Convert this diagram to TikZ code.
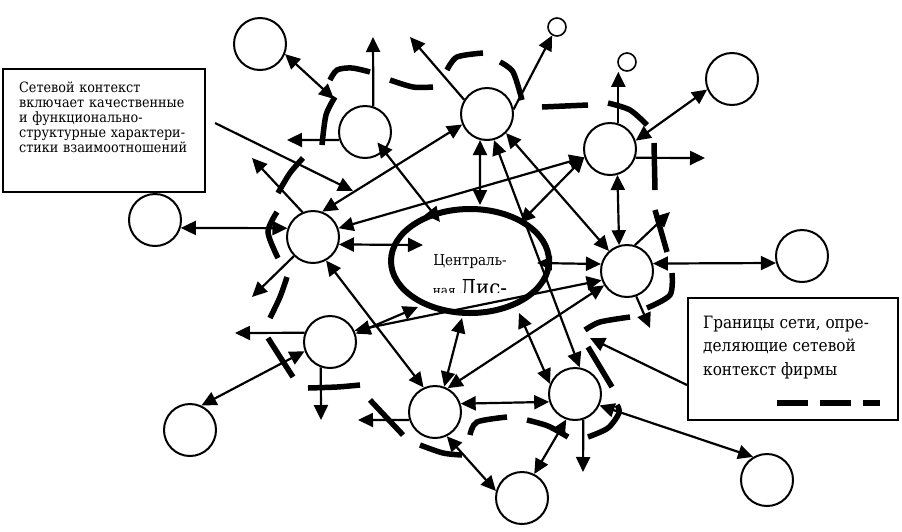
\documentclass[tikz,border=0pt]{standalone}
\usepackage{fontspec}
\setmainfont{DejaVu Serif Condensed}
\usetikzlibrary{shapes.geometric, arrows.meta, positioning, calc}

\begin{document}
\begin{tikzpicture}[x=1pt, y=-1pt,
  >={Triangle[length=15pt,width=14pt]},
  circ/.style={circle, draw, line width=2pt, minimum size=52pt, inner sep=0pt},
  dot/.style={circle, draw, line width=1.6pt, minimum size=18pt, inner sep=0pt},
  arr/.style={->, line width=2.2pt},
  darr/.style={<->, line width=2.2pt},
  bnd/.style={line width=5.5pt},
  note/.style={rectangle, draw, line width=2pt, inner sep=0pt},
  notetext/.style={anchor=north west, inner sep=0pt, align=left}
]
\useasboundingbox (0,0) rectangle (902,531);

% partners
\node[circ] (a)  at (260,44)  {};
\node[circ] (b)  at (365,132) {};
\node[circ] (c)  at (487,114) {};
\node[dot]  (s1) at (557,27)  {};
\node[dot]  (s2) at (627,62)  {};
\node[circ] (d)  at (610,149) {};
\node[circ] (e)  at (732,79)  {};
\node[circ] (f)  at (155,220) {};
\node[circ] (g)  at (313,237) {};
\node[circ] (h)  at (802,256) {};
\node[circ] (i)  at (627,271) {};
\node[circ] (j)  at (330,342) {};
\node[circ] (k)  at (190,430) {};
\node[circ] (l)  at (435,412) {};
\node[circ] (m)  at (575,394) {};
\node[circ] (n)  at (522,498) {};
\node[circ] (o)  at (767,480) {};

% focal firm
\node[ellipse, draw, line width=6pt, minimum width=158pt, minimum height=104pt,
      inner sep=0pt] (firm) at (470,261) {};
\node[anchor=base, inner sep=0pt, font=\fontsize{15}{17}\selectfont] (firmtxt) at (470,265) {Централь-};
\begin{scope}
  \clip (380,270) rectangle (560,292.5);
  \node[anchor=base, inner sep=0pt] (firmtxt2) at (470,295)
    {\fontsize{13.5}{15}\selectfont ная \fontsize{22}{24}\selectfont Лис-};
\end{scope}

% notes
\node[note, minimum width=202pt, minimum height=123pt] (note1) at (104,130.5) {};
\node[notetext, text width=185pt, font=\fontsize{14.2}{15}\selectfont] (note1txt) at (19,82)
  {Сетевой контекст\\ включает качественные\\ и функционально-\\ структурные характери-\\ стики взаимоотношений};
\node[note, minimum width=210pt, minimum height=122pt] (note2) at (793,359) {};
\node[notetext, font=\fontsize{17}{23.5}\selectfont] (note2txt) at (703,315.5)
  {Границы сети, опре-\\ деляющие сетевой\\ контекст фирмы};
\draw[bnd, dash pattern=on 31pt off 12pt] (777,403) -- (880,403);

% free ends
\coordinate (aEnd) at (334,99);
\coordinate (bUp)  at (373,37);
\coordinate (bW)   at (287,140);
\coordinate (cNW)  at (410,37);
\coordinate (dE)   at (705,158);
\coordinate (gNW)  at (252,158);
\coordinate (gSW)  at (252,297);
\coordinate (iNE)  at (670,212);
\coordinate (iSE)  at (650,328);
\coordinate (jW)   at (235,333);
\coordinate (jS)   at (321,420);
\coordinate (lW)   at (358,420);
\coordinate (mS)   at (583,472);
\coordinate (n1s)  at (215,123);
\coordinate (n1e)  at (353,191);
\coordinate (n2e)  at (590,338);
% ends on the firm
\coordinate (fB) at (440,222);
\coordinate (fC) at (480,205);
\coordinate (fD) at (520,223);
\coordinate (fI) at (537,263);
\coordinate (fG) at (423,245);
\coordinate (fJ) at (418,307);
\coordinate (fL) at (462,318);
\coordinate (fM) at (519,313);

% links
\draw[darr] (a.-22) -- (aEnd);
\draw[arr]  (b.72) -- (bUp);
\draw[arr]  (b.197) -- (bW);
\draw[darr] ($(b)!.6!(b.-40)$) -- (fB);
\draw[arr]  (c.148) -- (cNW);
\draw[arr]  (c.10) -- (s1.240);
\draw[darr] (c.255) -- (fC);
\draw[darr] (c.-75) -- (m.80);
\draw[darr] (c.-45) -- (i.132);
\draw[darr] (g.70) -- (c.203);
\draw[arr]  (d.72) -- (d.72 |- s2.south);
\draw[darr] (d.18) -- (e.203);
\draw[arr]  (d.-19) -- (dE);
\draw[darr] (g.19) -- (d.198);
\draw[darr] (fD) -- (d.198);
\draw[darr] (d.-74) -- (i.107);
\draw[arr]  (g.113) -- (gNW);
\draw[darr] (g.161) -- (f.-17);
\draw[darr] (g.-16) -- (fG);
\draw[arr]  (g.225) -- (gSW);
\draw[darr] (g.-61) -- (l.115);
\draw[arr]  (n1s) -- (n1e);
\draw[darr] (fI) -- (i.165);
\draw[darr] (j.25) -- (i.200);
\draw[darr] (l.62) -- (i.212);
\draw[darr] (i.16) -- (h.195);
\draw[arr]  (i.73) -- (iNE);
\draw[arr]  (i.-70) -- (iSE);
\draw[darr] (j.18) -- (fJ);
\draw[arr]  (j.160) -- (jW);
\draw[darr] (j.200) -- (k.65);
\draw[arr]  (j.-110) -- (jS);
\draw[darr] (l.70) -- (fL);
\draw[darr] (l.18) -- (m.197);
\draw[arr]  (l.197) -- (lW);
\draw[darr] (l.-64) -- (n.165);
\draw[darr] (m.158) -- (fM);
\draw[arr]  (m.-72) -- (mS);
\draw[darr] (m.251) -- (n.63);
\draw[darr] (m.-25) -- (o.121);
\draw[arr]  ($(note2.south west)!.29!(note2.north west)$) -- (n2e);

% network boundary
\draw[bnd] plot[smooth] coordinates {(330,80) (337,70) (352,68) (370,72)};
\draw[bnd] plot[smooth] coordinates {(390,80) (413,87) (433,87)};
\draw[bnd] plot[smooth] coordinates {(447,70) (457,57) (483,53)};
\draw[bnd] plot[smooth] coordinates {(500,62) (513,72) (522,100)};
\draw[bnd] (542,107) -- (588,105);
\draw[bnd] plot[smooth] coordinates {(608,103) (630,110) (647,125)};
\draw[bnd] (654,143) -- (655,190);
\draw[bnd] (655,210) -- (667,252);
\draw[bnd] plot[smooth] coordinates {(672,273) (670,295) (647,308)};
\draw[bnd] plot[smooth] coordinates {(630,317) (600,322) (585,330)};
\draw[bnd] (588,347) -- (612,387);
\draw[bnd] plot[smooth] coordinates {(588,437) (608,428) (619,413) (617,405)};
\draw[bnd] plot[smooth] coordinates {(527,420) (548,426) (568,437)};
\draw[bnd] plot[smooth] coordinates {(470,435) (477,422) (507,417)};
\draw[bnd] plot[smooth] coordinates {(420,445) (443,453) (462,455)};
\draw[bnd] (370,400) -- (403,435);
\draw[bnd] plot[smooth] coordinates {(308,388) (337,387) (360,385)};
\draw[bnd] plot[smooth] coordinates {(268,338) (282,360) (293,377)};
\draw[bnd] plot[smooth] coordinates {(287,277) (280,297) (270,318)};
\draw[bnd] plot[smooth] coordinates {(277,212) (268,232) (278,258)};
\draw[bnd] plot[smooth] coordinates {(278,193) (290,173) (303,158)};
\draw[bnd] plot[smooth] coordinates {(322,145) (326,115) (335,97)};
\end{tikzpicture}
\end{document}
